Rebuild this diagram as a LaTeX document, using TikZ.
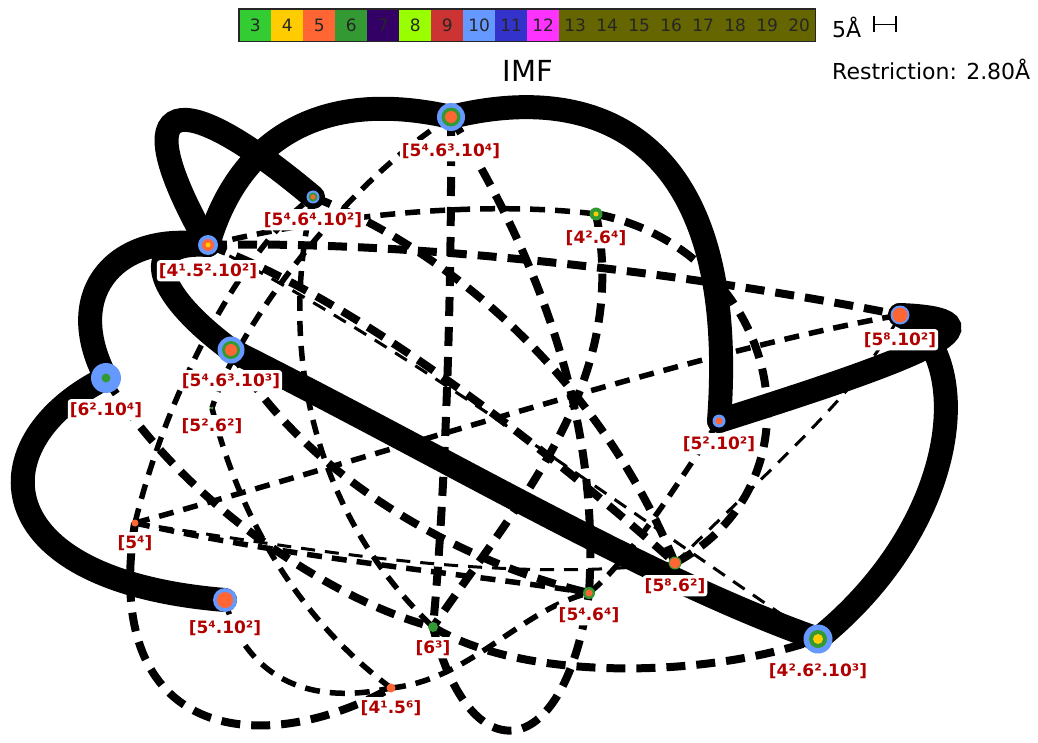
\documentclass[tikz,border=0pt]{standalone}
\usepackage{fontspec}
\setmainfont{DejaVu Sans}
\usetikzlibrary{positioning}

\definecolor{col3}{HTML}{33CC33}
\definecolor{col4}{HTML}{FFCC00}
\definecolor{col5}{HTML}{FF6633}
\definecolor{col6}{HTML}{339933}
\definecolor{col7}{HTML}{330066}
\definecolor{col8}{HTML}{99FF00}
\definecolor{col9}{HTML}{CC3333}
\definecolor{col10}{HTML}{6699FF}
\definecolor{col11}{HTML}{3333CC}
\definecolor{col12}{HTML}{FF33FF}
\definecolor{col13}{HTML}{666600}
\definecolor{labred}{HTML}{B00000}

\newcommand{\rings}[2]{\foreach \cl/\rr in {#2}{\fill[\cl] (#1) circle[radius=\rr];}}

\begin{document}
\begin{tikzpicture}[
    x=1pt, y=-1pt,
    bond/.style={
        line width=24pt,
        line cap=round
    },
    heavy/.style={
        line width=8pt,
        dash pattern=on 19pt off 11pt
    },
    medium/.style={
        line width=5.5pt,
        dash pattern=on 15pt off 10pt
    },
    slim/.style={
        line width=3pt,
        dash pattern=on 14pt off 10pt
    },
    lab/.style={
        fill=white,
        rounded corners=3pt,
        text=labred,
        inner xsep=2pt,
        inner ysep=3pt,
        font=\bfseries\fontsize{17}{20}\selectfont
    },
    cell/.style={
        anchor=north west,
        minimum width=32pt,
        minimum height=32pt,
        inner sep=0pt,
        text=black!85,
        font=\fontsize{17}{20}\selectfont
    }
]
\useasboundingbox (0,0) rectangle (1038,743);

% =========================================================
% Colour key
% =========================================================
\foreach \n/\cl [count=\i from 0] in {3/col3,4/col4,5/col5,6/col6,7/col7,8/col8,9/col9,10/col10,11/col11,12/col12,13/col13,14/col13,15/col13,16/col13,17/col13,18/col13,19/col13,20/col13}
    \node[cell, fill=\cl] (cell\n) at (239+32*\i, 9) {\n};
\draw[line width=1.5pt, black!85] (cell3.north west) rectangle (cell20.south east);

\node[anchor=base west, inner sep=0pt, font=\fontsize{22}{24}\selectfont] (scale) at (832,38) {5Å};
\coordinate (barl) at (874,24.5);
\coordinate (barr) at (896,24.5);
\draw[line width=1.5pt] (barl) -- (barr);
\draw[line width=1.5pt] ([yshift=8pt]barl) -- ([yshift=-8pt]barl);
\draw[line width=1.5pt] ([yshift=8pt]barr) -- ([yshift=-8pt]barr);

\node[anchor=base, inner sep=0pt, font=\fontsize{29}{31}\selectfont] (title) at (528,82) {IMF};
\node[anchor=base west, inner sep=0pt, font=\fontsize{22}{24}\selectfont] (restr) at (832,80) {Restriction: 2.80Å};

% =========================================================
% Vertices
% =========================================================
\coordinate (v5463104) at (451,117);
\coordinate (v5464102) at (313,197);
\coordinate (v4264)    at (596,214);
\coordinate (v4152102) at (208,245);
\coordinate (v58102)   at (900,315);
\coordinate (v62104)   at (106,378);
\coordinate (v5463103) at (231,350);
\coordinate (v5262)    at (212,408);
\coordinate (v52102)   at (719,421);
\coordinate (v54)      at (135,523);
\coordinate (v5862)    at (675,563);
\coordinate (v54102)   at (225,600);
\coordinate (v5464)    at (589,593);
\coordinate (v63)      at (433,627);
\coordinate (v4262103) at (818,639);
\coordinate (v4156)    at (391,688);

% =========================================================
% Solid bonds
% =========================================================
\draw[bond] (v4152102) .. controls (120,90) and (180,85) .. (v5464102);
\draw[bond] (v4152102) .. controls (235,150) and (310,85) .. (v5463104);
\draw[bond] (v5463104) .. controls (600,80) and (740,140) .. (v52102);
\draw[bond] (v52102) .. controls (880,370) and (1030,320) .. (v58102);
\draw[bond] (v58102) .. controls (975,350) and (965,520) .. (v4262103);
\draw[bond] (v62104) .. controls (60,290) and (120,230) .. (v4152102);
\draw[bond] (v5463103) .. controls (150,290) and (140,240) .. (v4152102);
\draw[bond] (v5463103) .. controls (450,460) and (650,580) .. (v4262103);
\draw[bond] (v62104) .. controls (-20,440) and (-20,580) .. (v54102);

% =========================================================
% Dashed contacts
% =========================================================
\draw[heavy] (v5463104) .. controls (452,300) and (445,500) .. (v63);
\draw[heavy] (v5463104) .. controls (540,260) and (600,420) .. (v5464);
\draw[heavy] (v5464102) .. controls (450,250) and (600,380) .. (v5862);
\draw[heavy] (v4264) .. controls (780,250) and (830,480) .. (v5862);
\draw[heavy] (v4264) .. controls (630,380) and (520,500) .. (v63);
\draw[heavy] (v4152102) .. controls (420,240) and (700,275) .. (v58102);
\draw[heavy] (v4152102) .. controls (360,300) and (560,460) .. (v5862);
\draw[heavy] (v62104) .. controls (180,500) and (330,600) .. (v63);
\draw[heavy] (v5463103) .. controls (300,470) and (450,560) .. (v5464);
\draw[heavy] (v63) .. controls (520,680) and (700,680) .. (v4262103);
\draw[heavy] (v63) .. controls (470,775) and (565,765) .. (v5464);
\draw[heavy] (v54) .. controls (100,740) and (260,760) .. (v4156);

\draw[medium] (v4152102) .. controls (330,215) and (480,200) .. (v4264);
\draw[medium] (v5463104) .. controls (350,180) and (240,320) .. (v5262);
\draw[medium] (v5464102) .. controls (275,360) and (320,520) .. (v63);
\draw[medium] (v54) .. controls (170,380) and (250,240) .. (v5464102);
\draw[medium] (v54) .. controls (400,450) and (700,350) .. (v58102);
\draw[medium] (v54) .. controls (300,560) and (480,575) .. (v5464);
\draw[medium] (v5262) .. controls (240,520) and (300,620) .. (v4156);
\draw[medium] (v4156) .. controls (470,680) and (520,610) .. (v5464);
\draw[medium] (v52102) .. controls (680,480) and (630,560) .. (v5464);
\draw[medium] (v54102) .. controls (240,660) and (290,710) .. (v4156);

\draw[slim] (v4152102) .. controls (390,335) and (640,520) .. (v4262103);
\draw[slim] (v54) .. controls (300,548) and (500,585) .. (v5862);
\draw[slim] (v5862) .. controls (780,460) and (860,390) .. (v58102);

% =========================================================
% Ring markers
% =========================================================
\rings{v5463104}{col10/14, col6/9.5, col5/6}
\rings{v5464102}{col10/6.5, col6/4.5, col5/2.5}
\rings{v4264}{col6/6.5, col4/2.5}
\rings{v4152102}{col10/10, col5/6, col4/2.5}
\rings{v58102}{col10/9.5, col5/7.5}
\rings{v62104}{col10/15, col6/4.5}
\rings{v5463103}{col10/13.5, col6/9, col5/6}
\rings{v5262}{col6/1.5}
\rings{v52102}{col10/6.5, col5/3.5}
\rings{v54}{col5/3.5}
\rings{v5862}{col6/6.5, col5/5.5}
\rings{v54102}{col10/12, col5/8}
\rings{v5464}{col6/6, col5/3.5}
\rings{v63}{col6/5}
\rings{v4262103}{col10/14.5, col6/9, col4/5}
\rings{v4156}{col5/4.5}

% =========================================================
% Labels
% =========================================================
\node[lab, below=23pt of v5463104] (l5463104) {[5⁴.6³.10⁴]};
\node[lab, below=12pt of v5464102] (l5464102) {[5⁴.6⁴.10²]};
\node[lab, below=13pt of v4264] (l4264) {[4².6⁴]};
\node[lab, below=15pt of v4152102] (l4152102) {[4¹.5².10²]};
\node[lab, below=14pt of v58102] (l58102) {[5⁸.10²]};
\node[lab, below=21pt of v62104] (l62104) {[6².10⁴]};
\node[lab, below=20pt of v5463103] (l5463103) {[5⁴.6³.10³]};
\node[lab, below=7pt of v5262] (l5262) {[5².6²]};
\node[lab, below=12pt of v52102] (l52102) {[5².10²]};
\node[lab, below=9pt of v54] (l54) {[5⁴]};
\node[lab, below=12pt of v5862] (l5862) {[5⁸.6²]};
\node[lab, below=17pt of v54102] (l54102) {[5⁴.10²]};
\node[lab, below=11pt of v5464] (l5464) {[5⁴.6⁴]};
\node[lab, below=10pt of v63] (l63) {[6³]};
\node[lab, below=21pt of v4262103] (l4262103) {[4².6².10³]};
\node[lab, below=9pt of v4156] (l4156) {[4¹.5⁶]};

\end{tikzpicture}
\end{document}
